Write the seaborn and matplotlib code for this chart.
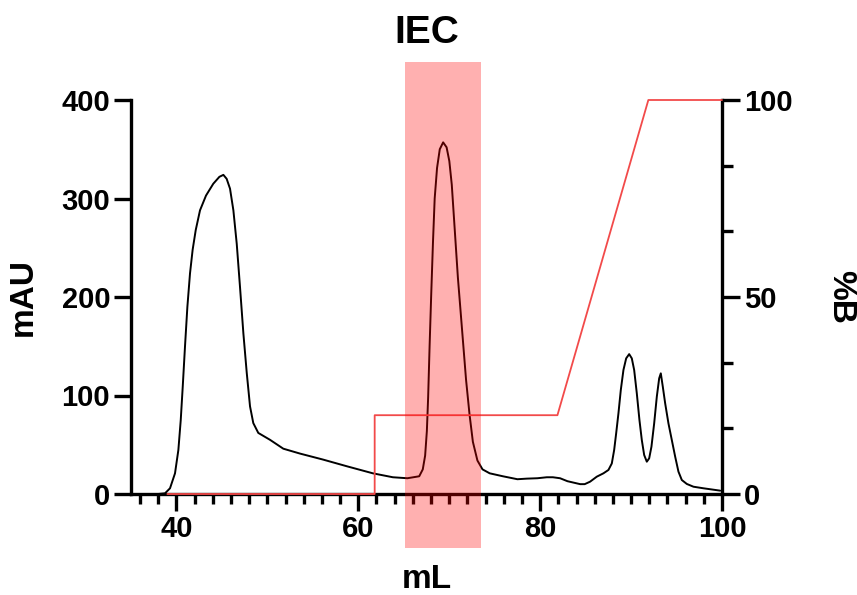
import matplotlib
matplotlib.use("Agg")
import matplotlib.pyplot as plt
import matplotlib.transforms as mtransforms
from matplotlib.patches import Rectangle
from matplotlib.ticker import MultipleLocator, FixedLocator
import seaborn as sns
import pandas as pd

# UV trace (mAU) vs volume (mL)
volume_ml = [35.0, 38.0, 38.74, 39.29, 39.84, 40.21, 40.47, 40.69, 40.94, 41.2, 41.49,
             41.78, 42.12, 42.59, 43.25, 44.05, 44.72, 45.16, 45.52, 45.89, 46.26, 46.63,
             46.99, 47.36, 47.73, 48.09, 48.45, 49.0, 50.29, 51.75, 53.6, 56.1, 58.8,
             61.6, 63.8, 65.4, 66.7, 67.09, 67.35, 67.54, 67.68, 67.84, 68.02, 68.21,
             68.4, 68.66, 68.96, 69.33, 69.71, 70.01, 70.28, 70.58, 70.95, 71.4, 71.85,
             72.23, 72.6, 73.1, 73.66, 74.45, 75.9, 77.5, 78.53, 79.7, 80.73, 81.4, 82.19,
             83.0, 84.4, 84.9, 85.49, 86.23, 86.96, 87.51, 87.88, 88.14, 88.36, 88.61,
             88.87, 89.16, 89.46, 89.79, 90.08, 90.34, 90.63, 90.92, 91.18, 91.44, 91.73,
             91.99, 92.24, 92.54, 92.83, 93.09, 93.27, 93.49, 93.75, 94.11, 94.48, 94.85,
             95.21, 95.58, 96.13, 96.86, 97.96, 99.8]
mau = [0, 0, 0.7, 5.8, 21, 44.7, 75, 109, 150, 190, 224,
       248, 268, 288, 303, 315, 322, 324, 320, 310, 288, 254,
       210, 163, 123, 89, 72, 62, 55, 46, 41, 35, 28,
       21, 17, 16, 18, 25, 39, 64, 98, 150, 203, 255,
       300, 331, 350, 357, 352, 338, 314, 272, 220, 168, 116,
       81, 53, 34, 25, 21, 18, 15, 15.6, 16, 17, 17, 16,
       13, 10, 10, 12.5, 17.6, 21, 24.4, 31, 44.7, 61.6, 81.9,
       105.6, 125.9, 137.7, 142, 137.7, 125.9, 102.2, 75.1, 54.8, 39.6, 32.8,
       36.2, 48, 71.7, 98.8, 117.4, 122.5, 108.9, 92, 71.7, 54.8, 37.9,
       22.7, 14.2, 10.2, 7.4, 5.8, 3.4]

# Gradient %B
grad_ml = [39.0, 61.8, 61.8, 81.9, 91.9, 100.0]
grad_b = [0, 0, 20, 20, 100, 100]

# Collected fraction (IEC)
fraction_ml = [65.1, 73.5]

x_ticks = [40, 60, 80, 100]
left_ticks = [0, 100, 200, 300, 400]
right_ticks = [0, 50, 100]

sns.set_style("ticks")
plt.rcParams['font.family'] = ['Liberation Sans', 'DejaVu Sans']
plt.rcParams['font.weight'] = 'bold'
plt.rcParams['text.color'] = 'black'
plt.rcParams['axes.labelcolor'] = 'black'
plt.rcParams['xtick.color'] = 'black'
plt.rcParams['ytick.color'] = 'black'

fig = plt.figure(figsize=(8.57, 5.95), dpi=100)
ax = fig.add_axes([131/857, 1-494/595, (722-131)/857, (494-100)/595])
ax2 = ax.twinx()

uv = pd.DataFrame({"mL": volume_ml, "mAU": mau})
gr = pd.DataFrame({"mL": grad_ml, "B": grad_b})

sns.lineplot(data=uv, x="mL", y="mAU", ax=ax, color="black", lw=1.4,
             sort=False, estimator=None)
sns.lineplot(data=gr, x="mL", y="B", ax=ax2, color="#F24A4A", lw=1.3,
             sort=False, estimator=None)
for ln in ax2.get_lines():
    ln.set_clip_on(False)
    ln.set_zorder(5)

ax.set_xlim(35, 100)
ax.set_ylim(0, 400)
ax2.set_ylim(0, 100)

for a in (ax, ax2):
    for s in a.spines.values():
        s.set_linewidth(2.4)
        s.set_color("black")
    a.spines['top'].set_visible(False)

ax.spines['right'].set_visible(False)
ax2.spines['left'].set_visible(False)
ax2.spines['bottom'].set_visible(False)

ax.xaxis.set_major_locator(FixedLocator(x_ticks))
ax.xaxis.set_minor_locator(MultipleLocator(2))
ax.yaxis.set_major_locator(FixedLocator(left_ticks))
ax2.yaxis.set_major_locator(FixedLocator(right_ticks))
ax2.yaxis.set_minor_locator(MultipleLocator(100/6))

ax.tick_params(axis='both', which='major', length=12, width=2.4, labelsize=21, pad=3,
               color='black', labelcolor='black')
ax.tick_params(axis='x', which='minor', length=7, width=2.4, color='black')
ax2.tick_params(axis='y', which='major', length=13, width=2.4, labelsize=21, pad=3,
                color='black', labelcolor='black')
ax2.tick_params(axis='y', which='minor', length=8, width=2.4, color='black')

for lab in ax.get_xticklabels() + ax.get_yticklabels() + ax2.get_yticklabels():
    lab.set_fontweight('bold')

ax.set_xlabel("mL", fontsize=24, fontweight='bold', va='center')
ax.xaxis.set_label_coords(0.5, (494-579)/394)
ax.set_ylabel("mAU", fontsize=24, fontweight='bold', va='center')
ax.yaxis.set_label_coords((23.5-131)/591, 0.5)
ax2.set_ylabel("%B", fontsize=24, fontweight='bold', rotation=270, va='center')
ax2.yaxis.set_label_coords(1 + (840.5-722)/591, 0.5)
ax.set_title("IEC", fontsize=28, fontweight='bold', pad=41, color='black')

trans = mtransforms.blended_transform_factory(ax2.transData, ax2.transAxes)
rect = Rectangle((fraction_ml[0], -0.137), fraction_ml[1]-fraction_ml[0], 1.233,
                 transform=trans, facecolor=(1.0, 0.0, 0.0, 0.31), edgecolor='none',
                 clip_on=False, zorder=10)
ax2.add_patch(rect)

fig.savefig("out.png", dpi=100)
